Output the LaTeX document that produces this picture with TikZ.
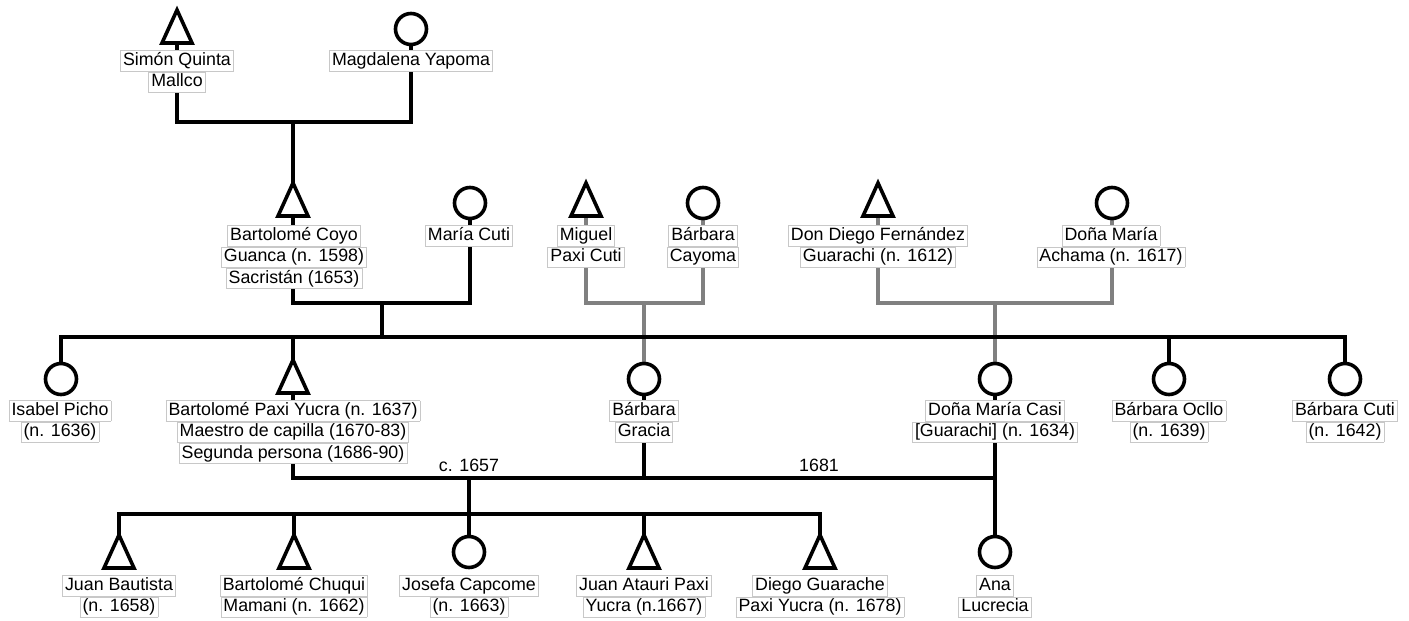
\documentclass[tikz,border=0pt]{standalone}
\usepackage{fontspec}
\setmainfont{Liberation Sans}
\usetikzlibrary{calc}
\definecolor{boxgray}{RGB}{200,200,200}
\definecolor{linegray}{RGB}{128,128,128}
\newcommand\lbline[1]{\fcolorbox{boxgray}{white}{\rule[-4pt]{0pt}{17.5pt}\kern1pt#1\kern1pt}}
\newcommand\lbstack[1]{{\setlength\fboxsep{1.2pt}\setlength\fboxrule{0.7pt}\renewcommand\arraystretch{0}\begin{tabular}{@{}c@{}}#1\end{tabular}}}
\newcommand\malesym[1]{\draw[sym] ($(#1)+(0,-17)$) -- ($(#1)+(15,16)$) -- ($(#1)+(-15,16)$) -- cycle;}
\begin{document}
\begin{tikzpicture}[x=1pt,y=-1pt,
  kin/.style={line width=3.8pt,draw=black},
  kin2/.style={line width=3.8pt,draw=linegray},
  sym/.style={line width=3.6pt,draw=black,fill=white},
  fem/.style={sym,circle,minimum size=31pt,inner sep=0pt},
  lab/.style={anchor=north,inner sep=0pt,font=\fontsize{17.8}{21}\selectfont},
  yr/.style={inner sep=0pt,font=\fontsize{17.8}{21}\selectfont}]
\useasboundingbox (0,0) rectangle (1409,621);
% persons (symbol centres)
\coordinate (simon) at (177,27);
\coordinate (magdalena) at (411,29);
\coordinate (coyo) at (293,200);
\coordinate (mcuti) at (470,203);
\coordinate (miguel) at (586,200);
\coordinate (cayoma) at (703,203);
\coordinate (diego) at (878,200);
\coordinate (achama) at (1112,203);
\coordinate (isabel) at (61,379);
\coordinate (bpy) at (293,377);
\coordinate (gracia) at (644,379);
\coordinate (casi) at (995,379);
\coordinate (ocllo) at (1169,379);
\coordinate (bcuti) at (1345,379);
\coordinate (jbautista) at (119,552);
\coordinate (chuqui) at (294,552);
\coordinate (josefa) at (469,552);
\coordinate (atauri) at (644,552);
\coordinate (dguarache) at (820,552);
\coordinate (ana) at (995,552);
% junctions
\coordinate (c0) at (293,122);
\coordinate (c1) at (382,303);
\coordinate (s1) at (382,337);
\coordinate (g1) at (644,303);
\coordinate (g2) at (995,303);
\coordinate (m1) at (469,478);
\coordinate (k1) at (469,514);
% grey connectors
\draw[kin2] (miguel) |- (cayoma |- g1) -- (cayoma);
\draw[kin2] (g1) -- (gracia);
\draw[kin2] (diego) |- (achama |- g2) -- (achama);
\draw[kin2] (g2) -- (casi);
% black connectors
\draw[kin] (simon) |- (magdalena |- c0) -- (magdalena);
\draw[kin] (c0) -- (coyo);
\draw[kin] (coyo) |- (mcuti |- c1) -- (mcuti);
\draw[kin] (c1) -- (s1);
\draw[kin] (isabel) |- (bcuti |- s1) -- (bcuti);
\draw[kin] (bpy) -- (bpy |- s1);
\draw[kin] (ocllo) -- (ocllo |- s1);
\draw[kin] (bpy) |- (casi |- m1);
\draw[kin] (casi) -- (ana);
\draw[kin] (gracia) -- (gracia |- m1);
\draw[kin] (m1) -- (josefa);
\draw[kin] (jbautista) |- (dguarache |- k1) -- (dguarache);
\draw[kin] (chuqui) -- (chuqui |- k1);
\draw[kin] (atauri) -- (atauri |- k1);
% symbols
\malesym{simon}
\malesym{coyo}
\malesym{miguel}
\malesym{diego}
\malesym{bpy}
\malesym{jbautista}
\malesym{chuqui}
\malesym{atauri}
\malesym{dguarache}
\node[fem] (magdalena-s) at (magdalena) {};
\node[fem] (mcuti-s) at (mcuti) {};
\node[fem] (cayoma-s) at (cayoma) {};
\node[fem] (achama-s) at (achama) {};
\node[fem] (isabel-s) at (isabel) {};
\node[fem] (gracia-s) at (gracia) {};
\node[fem] (casi-s) at (casi) {};
\node[fem] (ocllo-s) at (ocllo) {};
\node[fem] (bcuti-s) at (bcuti) {};
\node[fem] (josefa-s) at (josefa) {};
\node[fem] (ana-s) at (ana) {};
% labels
\node[lab] (simon-l) at (177,50) {\lbstack{\lbline{Simón Quinta}\\\lbline{Mallco}}};
\node[lab] (magdalena-l) at (411,50) {\lbstack{\lbline{Magdalena Yapoma}}};
\node[lab] (coyo-l) at (294,225) {\lbstack{\lbline{Bartolomé Coyo}\\\lbline{Guanca (n. 1598)}\\\lbline{Sacristán (1653)}}};
\node[lab] (mcuti-l) at (469,225) {\lbstack{\lbline{María Cuti}}};
\node[lab] (miguel-l) at (586,225) {\lbstack{\lbline{Miguel}\\\lbline{Paxi Cuti}}};
\node[lab] (cayoma-l) at (703,225) {\lbstack{\lbline{Bárbara}\\\lbline{Cayoma}}};
\node[lab] (diego-l) at (878,225) {\lbstack{\lbline{Don Diego Fernández}\\\lbline{Guarachi (n. 1612)}}};
\node[lab] (achama-l) at (1111,225) {\lbstack{\lbline{Doña María}\\\lbline{Achama (n. 1617)}}};
\node[lab] (isabel-l) at (60,400) {\lbstack{\lbline{Isabel Picho}\\\lbline{(n. 1636)}}};
\node[lab] (bpy-l) at (293,400) {\lbstack{\lbline{Bartolomé Paxi Yucra (n. 1637)}\\\lbline{Maestro de capilla (1670-83)}\\\lbline{Segunda persona (1686-90)}}};
\node[lab] (gracia-l) at (644,400) {\lbstack{\lbline{Bárbara}\\\lbline{Gracia}}};
\node[lab] (casi-l) at (995,400) {\lbstack{\lbline{Doña María Casi}\\\lbline{[Guarachi] (n. 1634)}}};
\node[lab] (ocllo-l) at (1169,400) {\lbstack{\lbline{Bárbara Ocllo}\\\lbline{(n. 1639)}}};
\node[lab] (bcuti-l) at (1345,400) {\lbstack{\lbline{Bárbara Cuti}\\\lbline{(n. 1642)}}};
\node[lab] (jbautista-l) at (119,575) {\lbstack{\lbline{Juan Bautista}\\\lbline{(n. 1658)}}};
\node[lab] (chuqui-l) at (294,575) {\lbstack{\lbline{Bartolomé Chuqui}\\\lbline{Mamani (n. 1662)}}};
\node[lab] (josefa-l) at (469,575) {\lbstack{\lbline{Josefa Capcome}\\\lbline{(n. 1663)}}};
\node[lab] (atauri-l) at (644,575) {\lbstack{\lbline{Juan Atauri Paxi}\\\lbline{Yucra (n.1667)}}};
\node[lab] (dguarache-l) at (820,575) {\lbstack{\lbline{Diego Guarache}\\\lbline{Paxi Yucra (n. 1678)}}};
\node[lab] (ana-l) at (995,575) {\lbstack{\lbline{Ana}\\\lbline{Lucrecia}}};
% marriage years
\node[yr] (y1657) at (469,465) {c. 1657};
\node[yr] (y1681) at (819,465) {1681};
\end{tikzpicture}
\end{document}
